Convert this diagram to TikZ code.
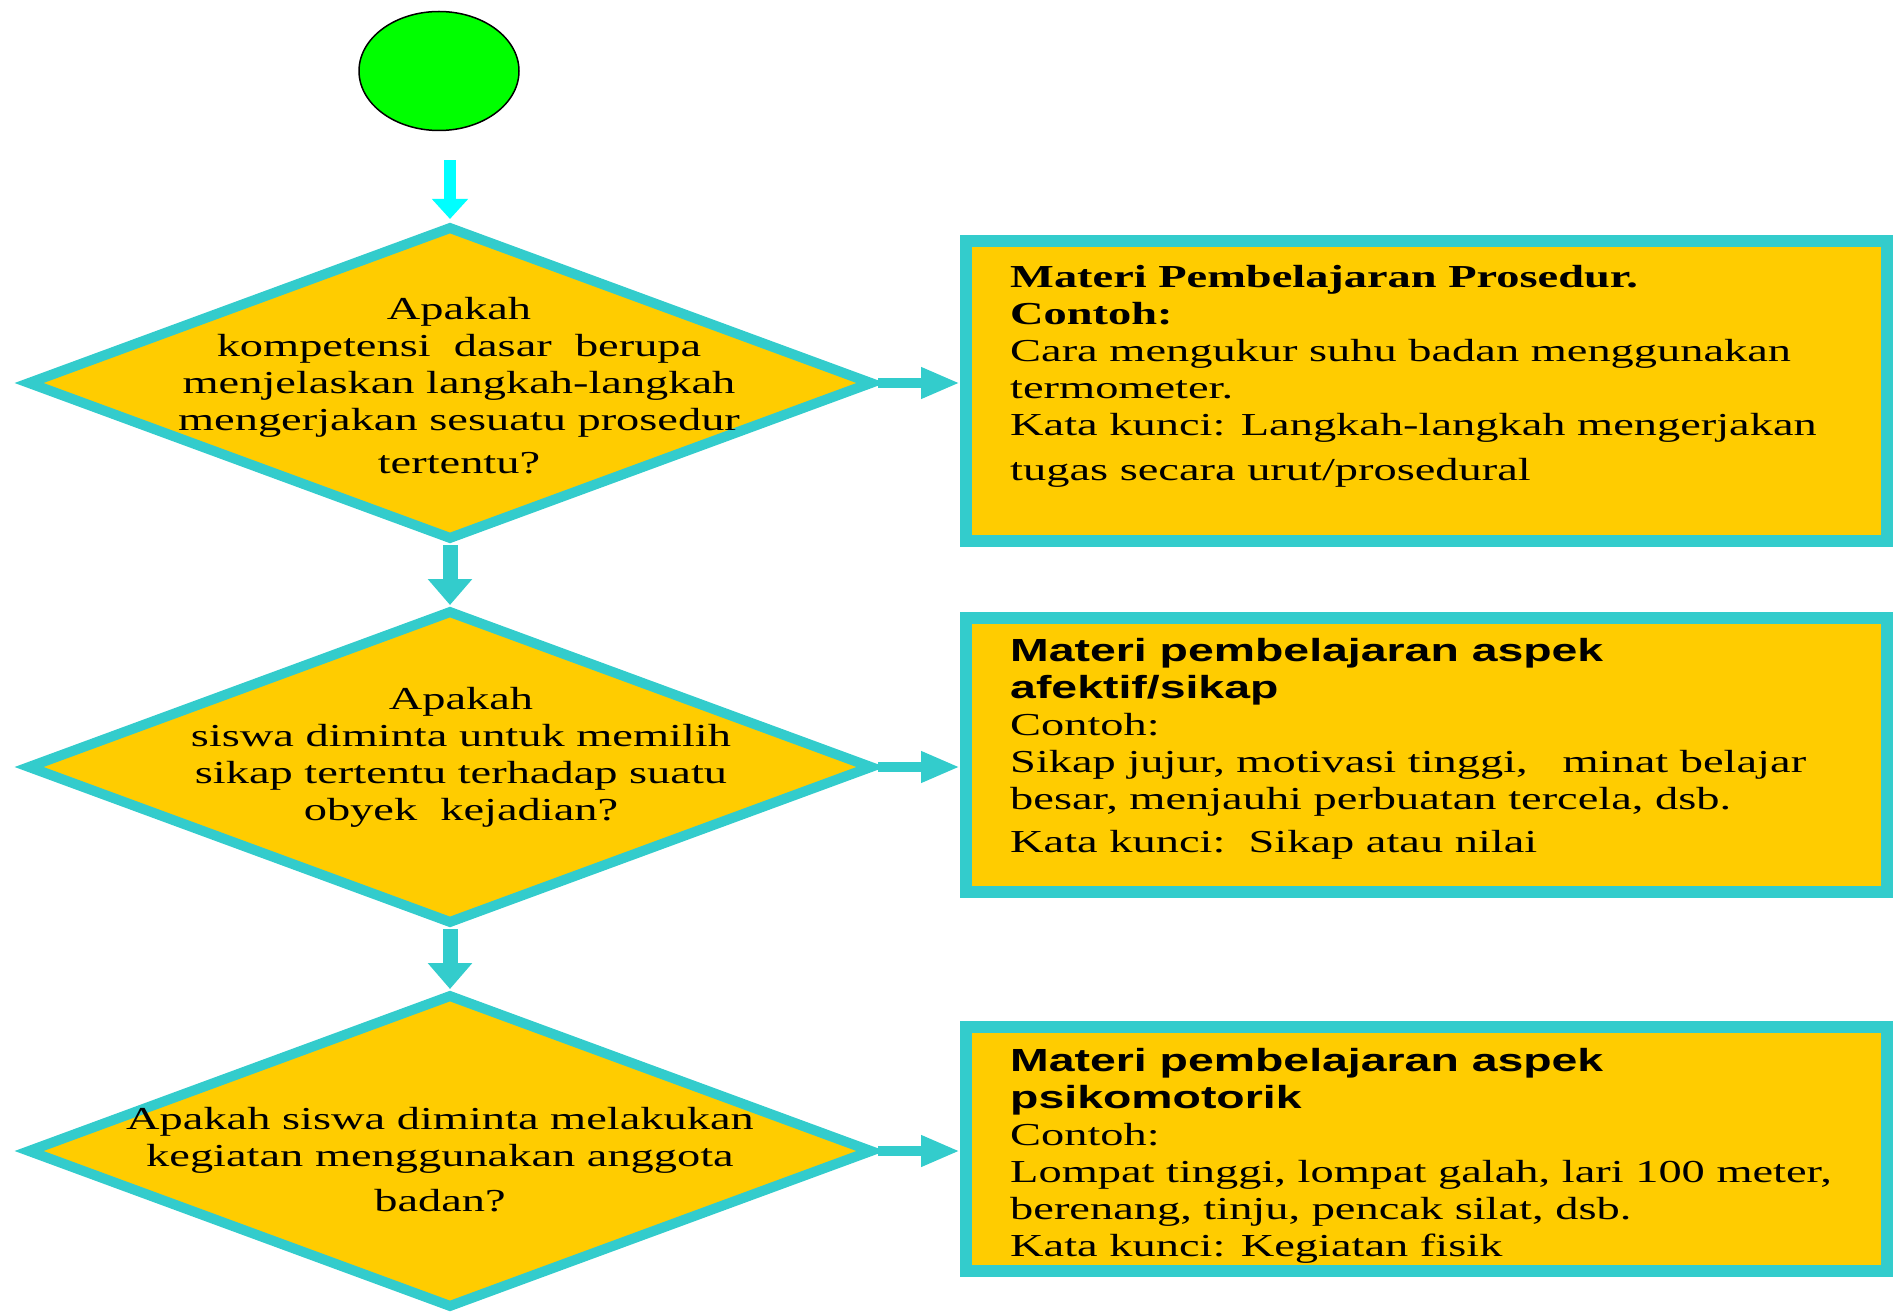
\documentclass[tikz,border=0pt]{standalone}
\usepackage{fontspec}
\setmainfont{Liberation Serif}
\newfontfamily\wideserif[FakeStretch=1.45]{Liberation Serif}
\newfontfamily\widesans[FakeStretch=1.45]{Liberation Sans}
\usetikzlibrary{shapes.geometric,arrows.meta}
\definecolor{rim}{HTML}{33CCCC}
\definecolor{gold}{HTML}{FFCC00}
\definecolor{startgreen}{HTML}{00FF00}
\definecolor{aqua}{HTML}{00FFFF}
\begin{document}
\begin{tikzpicture}[x=1pt,y=-1pt,
  decision/.style={diamond, draw=rim, fill=gold, line width=10pt,
    minimum width=846pt, minimum height=314pt, inner sep=0pt, line join=miter},
  question/.style={align=center, inner sep=0pt,
    font=\wideserif\fontsize{32}{37}\selectfont},
  infobox/.style={rectangle, draw=rim, fill=gold, line width=12pt,
    inner sep=0pt, anchor=north west},
  infotext/.style={align=left, inner sep=0pt, anchor=north west,
    font=\wideserif\fontsize{32}{37}\selectfont},
  flow/.style={draw=rim, line width=15pt, -{Triangle[length=26pt,width=43pt]}},
  side/.style={draw=rim, line width=10pt, -{Triangle[length=39pt,width=29pt]}},
]
\useasboundingbox (0,0) rectangle (1893,1313);

% start symbol
\node[ellipse, draw=black, line width=1.5pt, fill=startgreen,
  minimum width=160pt, minimum height=119pt] (start) at (439,71) {};

% decisions
\node[decision] (d1) at (450,383) {};
\node[decision] (d2) at (450,767) {};
\node[decision] (d3) at (450,1151) {};

\node[question] (q1) at (459,386) {Apakah\\
  kompetensi\ \ dasar\ \ berupa\\
  menjelaskan langkah-langkah\\
  mengerjakan sesuatu prosedur\\[6pt]
  tertentu?};
\node[question] (q2) at (461,757) {Apakah\\
  siswa diminta untuk memilih\\
  sikap tertentu terhadap suatu\\
  obyek\ \ kejadian?};
\node[question] (q3) at (440,1160) {Apakah siswa diminta melakukan\\
  kegiatan menggunakan anggota\\[8pt]
  badan?};

% result boxes (anchor includes the outer half of the rim)
\node[infobox, minimum width=921pt, minimum height=300pt] (b1) at (960,235) {};
\node[infobox, minimum width=921pt, minimum height=274pt] (b2) at (960,612) {};
\node[infobox, minimum width=921pt, minimum height=244pt] (b3) at (960,1021) {};

\node[infotext] (t1) at (1010,265) {{\bfseries Materi Pembelajaran Prosedur.}\\
  {\bfseries Contoh:}\\
  Cara mengukur suhu badan menggunakan\\
  termometer.\\
  Kata kunci: Langkah-langkah mengerjakan\\[8pt]
  tugas secara urut/prosedural};
\node[infotext] (t2) at (1010,638) {{\widesans\bfseries Materi pembelajaran aspek}\\
  {\widesans\bfseries afektif/sikap}\\
  Contoh:\\
  Sikap jujur, motivasi tinggi,\ \ \ minat belajar\\
  besar, menjauhi perbuatan tercela, dsb.\\[6pt]
  Kata kunci:\ \ Sikap atau nilai};
\node[infotext] (t3) at (1010,1048) {{\widesans\bfseries Materi pembelajaran aspek}\\
  {\widesans\bfseries psikomotorik}\\
  Contoh:\\
  Lompat tinggi, lompat galah, lari 100 meter,\\
  berenang, tinju, pencak silat, dsb.\\
  Kata kunci: Kegiatan fisik};

% connectors
\draw[draw=aqua, line width=12pt, -{Triangle[length=20pt,width=35pt]},
  shorten <=29pt, shorten >=2pt] (start.south -| d1.north) -- (d1.north);
\draw[flow] (d1.south) -- (d2.north);
\draw[flow] (d2.south) -- (d3.north);
\draw[side] (d1.east) -- (d1.east -| b1.west);
\draw[side] (d2.east) -- (d2.east -| b2.west);
\draw[side] (d3.east) -- (d3.east -| b3.west);
\end{tikzpicture}
\end{document}
